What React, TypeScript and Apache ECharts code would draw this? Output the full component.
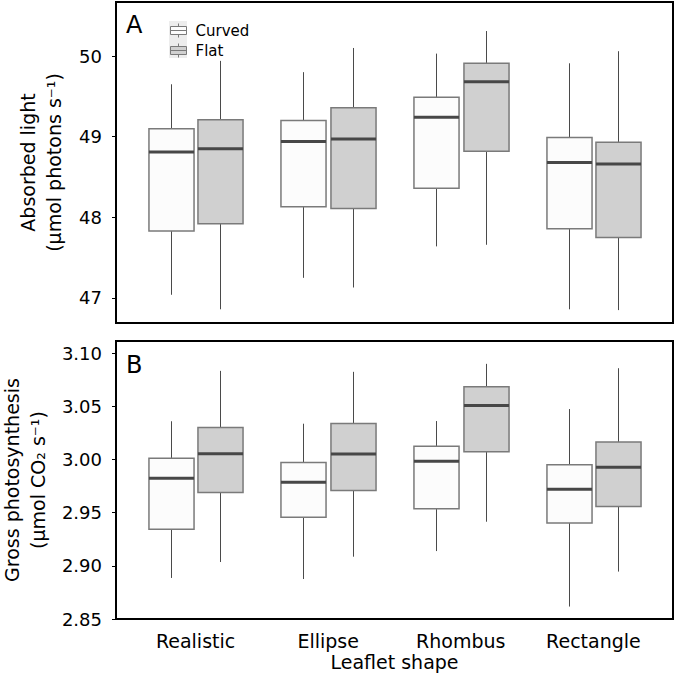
import React, { useEffect, useRef } from 'react';
import * as echarts from 'echarts';

const categories = ['Realistic', 'Ellipse', 'Rhombus', 'Rectangle'];
const groupNames = ['Curved', 'Flat'];

// Panel A: absorbed light
const lightCurvedMin = [47.04, 47.25, 47.64, 46.86];
const lightCurvedQ1 = [47.83, 48.13, 48.36, 47.86];
const lightCurvedMed = [48.81, 48.94, 49.24, 48.68];
const lightCurvedQ3 = [49.10, 49.20, 49.49, 48.99];
const lightCurvedMax = [49.65, 49.80, 50.03, 49.91];
const lightFlatMin = [46.86, 47.13, 47.66, 46.85];
const lightFlatQ1 = [47.92, 48.11, 48.82, 47.75];
const lightFlatMed = [48.85, 48.97, 49.68, 48.66];
const lightFlatQ3 = [49.21, 49.36, 49.91, 48.93];
const lightFlatMax = [49.94, 50.10, 50.31, 50.06];
const lightTicks = [47, 48, 49, 50];

// Panel B: gross photosynthesis
const photoCurvedMin = [2.8886, 2.8876, 2.9139, 2.8617];
const photoCurvedQ1 = [2.9345, 2.9458, 2.9537, 2.9402];
const photoCurvedMed = [2.9824, 2.9786, 2.9983, 2.9720];
const photoCurvedQ3 = [3.0011, 2.9971, 3.0124, 2.9952];
const photoCurvedMax = [3.0360, 3.0337, 3.0362, 3.0475];
const photoFlatMin = [2.9036, 2.9086, 2.9415, 2.8946];
const photoFlatQ1 = [2.9690, 2.9708, 3.0074, 2.9558];
const photoFlatMed = [3.0055, 3.0052, 3.0508, 2.9927];
const photoFlatQ3 = [3.0302, 3.0340, 3.0684, 3.0165];
const photoFlatMax = [3.0834, 3.0825, 3.0900, 3.0859];
const photoTicks = [2.85, 2.9, 2.95, 3.0, 3.05, 3.1];

const FONT = 'DejaVu Sans';
const BOX_WIDTH = 0.34;
const DODGE = 0.1875;
const FILLS = ['#fcfcfc', '#d0d0d0'];
const BOX_STROKE = '#7a7a7a';
const WHISKER = '#4a4a4a';
const MEDIAN = '#474747';

function buildData(mins: number[], q1s: number[], meds: number[], q3s: number[], maxs: number[]) {
  return categories.map((_, i) => [i + 1, mins[i], q1s[i], meds[i], q3s[i], maxs[i]]);
}

function makeRenderItem(offset: number, fill: string) {
  return (params: any, api: any) => {
    const x = api.value(0) + offset;
    const lo = api.coord([x, api.value(1)]);
    const q1 = api.coord([x, api.value(2)]);
    const md = api.coord([x, api.value(3)]);
    const q3 = api.coord([x, api.value(4)]);
    const hi = api.coord([x, api.value(5)]);
    const halfW = api.size([BOX_WIDTH, 0])[0] / 2;
    const cx = Math.round(lo[0]) + 0.5;
    return {
      type: 'group',
      children: [
        { type: 'line', shape: { x1: cx, y1: hi[1], x2: cx, y2: q3[1] }, style: { stroke: WHISKER, lineWidth: 1 } },
        { type: 'line', shape: { x1: cx, y1: q1[1], x2: cx, y2: lo[1] }, style: { stroke: WHISKER, lineWidth: 1 } },
        {
          type: 'rect',
          shape: { x: cx - halfW, y: q3[1], width: 2 * halfW, height: q1[1] - q3[1] },
          style: { fill, stroke: BOX_STROKE, lineWidth: 1.5 },
        },
        { type: 'line', shape: { x1: cx - halfW, y1: md[1], x2: cx + halfW, y2: md[1] }, style: { stroke: MEDIAN, lineWidth: 3 } },
      ],
    };
  };
}

const legendIcon = 'path://M0,3H16V11H0Z M0,7H16 M8,0V3 M8,11V14';

export default function App() {
  const ref = useRef<HTMLDivElement>(null);
  useEffect(() => {
    if (!ref.current) return;
    const chart = echarts.init(ref.current, undefined, { renderer: 'svg' });
    const textBase = { fontFamily: FONT, color: '#000' };
    const yAxisCommon = {
      type: 'value',
      axisLine: { show: false },
      splitLine: { show: false },
      nameLocation: 'middle',
      nameRotate: 90,
      nameTextStyle: { ...textBase, fontSize: 19, lineHeight: 26 },
    };
    const option: any = {
      animation: false,
      backgroundColor: '#fff',
      grid: [
        { left: 116, top: 2, width: 557, height: 321, show: true, borderColor: '#000', borderWidth: 2, outerBoundsMode: 'none', containLabel: false },
        { left: 116, top: 341, width: 557, height: 278, show: true, borderColor: '#000', borderWidth: 2, outerBoundsMode: 'none', containLabel: false },
      ],
      xAxis: [
        { gridIndex: 0, type: 'value', min: 0.4, max: 4.6, show: false },
        {
          gridIndex: 1,
          type: 'value',
          min: 0.4,
          max: 4.6,
          axisLine: { show: false },
          axisTick: { show: false },
          splitLine: { show: false },
          axisLabel: {
            customValues: [1, 2, 3, 4],
            formatter: (v: number) => categories[Math.round(v) - 1],
            margin: 12,
            fontSize: 19,
            ...textBase,
          },
          name: 'Leaflet shape',
          nameLocation: 'middle',
          nameGap: 33,
          nameTextStyle: { ...textBase, fontSize: 19 },
        },
      ],
      yAxis: [
        {
          ...yAxisCommon,
          gridIndex: 0,
          min: 46.69,
          max: 50.67,
          axisTick: { show: true, length: 4, customValues: lightTicks, lineStyle: { color: '#000' } },
          axisLabel: { customValues: lightTicks, margin: 14, fontSize: 18, ...textBase, formatter: (v: number) => String(v) },
          name: 'Absorbed light\n(µmol photons s⁻¹)',
          nameGap: 49,
        },
        {
          ...yAxisCommon,
          gridIndex: 1,
          min: 2.85,
          max: 3.1115,
          axisTick: { show: true, length: 4, customValues: photoTicks, lineStyle: { color: '#000' } },
          axisLabel: { customValues: photoTicks, margin: 14, fontSize: 18, ...textBase, formatter: (v: number) => v.toFixed(2) },
          name: 'Gross photosynthesis\n(µmol CO₂ s⁻¹)',
          nameGap: 65,
        },
      ],
      legend: {
        orient: 'vertical',
        left: 165,
        top: 18,
        itemWidth: 16,
        itemHeight: 14,
        itemGap: 5,
        selectedMode: false,
        textStyle: { ...textBase, fontSize: 15, padding: [0, 0, 0, 4] },
        data: groupNames.map((n, i) => ({
          name: n,
          icon: legendIcon,
          itemStyle: { color: FILLS[i], borderColor: BOX_STROKE, borderWidth: 1 },
        })),
      },
      graphic: [
        { type: 'rect', shape: { x: 169, y: 21, width: 18, height: 37 }, style: { fill: '#ededed' }, z: -1 },
        { type: 'text', style: { text: 'A', x: 126, y: 25, fontSize: 24, fontFamily: FONT, fill: '#000', textVerticalAlign: 'middle' } },
        { type: 'text', style: { text: 'B', x: 126, y: 365, fontSize: 24, fontFamily: FONT, fill: '#000', textVerticalAlign: 'middle' } },
      ],
      series: [
        {
          type: 'custom', name: 'Curved', xAxisIndex: 0, yAxisIndex: 0,
          renderItem: makeRenderItem(-DODGE, FILLS[0]),
          encode: { x: 0, y: [1, 2, 3, 4, 5] },
          data: buildData(lightCurvedMin, lightCurvedQ1, lightCurvedMed, lightCurvedQ3, lightCurvedMax),
        },
        {
          type: 'custom', name: 'Flat', xAxisIndex: 0, yAxisIndex: 0,
          renderItem: makeRenderItem(DODGE, FILLS[1]),
          encode: { x: 0, y: [1, 2, 3, 4, 5] },
          data: buildData(lightFlatMin, lightFlatQ1, lightFlatMed, lightFlatQ3, lightFlatMax),
        },
        {
          type: 'custom', name: 'Curved', xAxisIndex: 1, yAxisIndex: 1,
          renderItem: makeRenderItem(-DODGE, FILLS[0]),
          encode: { x: 0, y: [1, 2, 3, 4, 5] },
          data: buildData(photoCurvedMin, photoCurvedQ1, photoCurvedMed, photoCurvedQ3, photoCurvedMax),
        },
        {
          type: 'custom', name: 'Flat', xAxisIndex: 1, yAxisIndex: 1,
          renderItem: makeRenderItem(DODGE, FILLS[1]),
          encode: { x: 0, y: [1, 2, 3, 4, 5] },
          data: buildData(photoFlatMin, photoFlatQ1, photoFlatMed, photoFlatQ3, photoFlatMax),
        },
      ],
    };
    chart.setOption(option);
    return () => chart.dispose();
  }, []);
  return (
    <div
      ref={ref}
      style={{ position: 'absolute', left: 0, top: 0, width: 676, height: 687 }}
    />
  );
}
